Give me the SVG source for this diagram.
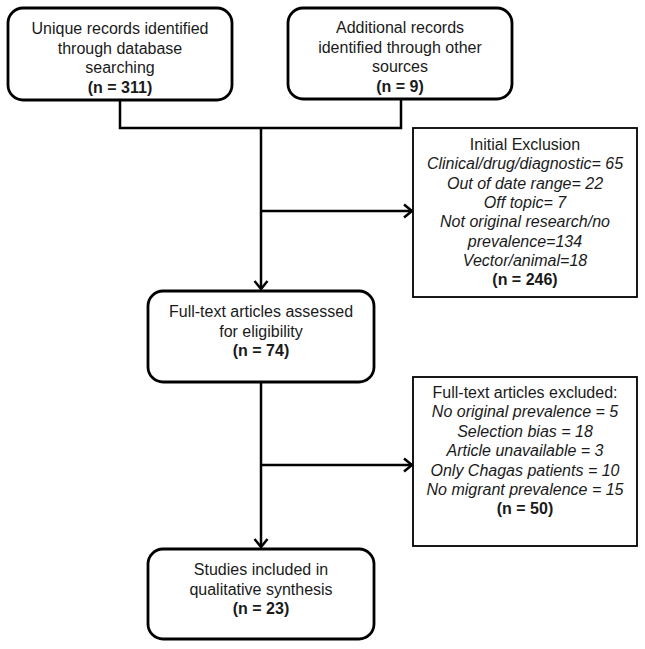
<svg xmlns="http://www.w3.org/2000/svg" width="645" height="649" viewBox="0 0 645 649">
<defs>
<style>
.rb{fill:#fff;stroke:#000;stroke-width:2.8}
.sb{fill:#fff;stroke:#000;stroke-width:1.8}
text{font-family:"Liberation Sans",Arial,sans-serif;font-size:16px;fill:#1a1a1a;text-anchor:middle}
.b{font-weight:bold}
.i{font-style:italic}
.c{fill:none;stroke:#000;stroke-width:2.5}
</style>
<marker id="ah" markerUnits="userSpaceOnUse" viewBox="-10 -8 12 16" refX="0" refY="0" markerWidth="12" markerHeight="16" orient="auto">
<path d="M-8,-6.5 L0,0 L-8,6.5" fill="none" stroke="#000" stroke-width="2.5"/>
</marker>
</defs>
<rect width="645" height="649" fill="#fff"/>
<g id="connectors">
<path class="c" d="M120,100 V128 H401 V99"/>
<path class="c" d="M261,128 V289" marker-end="url(#ah)"/>
<path class="c" d="M261,211 H412" marker-end="url(#ah)"/>
<path class="c" d="M261,382 V547" marker-end="url(#ah)"/>
<path class="c" d="M261,465 H412" marker-end="url(#ah)"/>
</g>
<g id="n1">
<rect class="rb" x="8" y="8" width="224" height="92" rx="15"/>
<text x="120" y="34">Unique records identified</text>
<text x="120" y="53.5">through database</text>
<text x="120" y="73">searching</text>
<text x="120" y="92.5" class="b">(n = 311)</text>
</g>
<g id="n2">
<rect class="rb" x="288" y="8" width="224" height="91" rx="15"/>
<text x="400" y="33">Additional records</text>
<text x="400" y="52.5">identified through other</text>
<text x="400" y="72">sources</text>
<text x="400" y="91.5" class="b">(n = 9)</text>
</g>
<g id="n3">
<rect class="sb" x="413" y="128" width="224" height="169"/>
<text x="525" y="150">Initial Exclusion</text>
<text x="525" y="169.3" class="i">Clinical/drug/diagnostic= 65</text>
<text x="525" y="188.6" class="i">Out of date range= 22</text>
<text x="525" y="207.9" class="i">Off topic= 7</text>
<text x="525" y="227.2" class="i">Not original research/no</text>
<text x="525" y="246.5" class="i">prevalence=134</text>
<text x="525" y="265.8" class="i">Vector/animal=18</text>
<text x="525" y="285.1" class="b">(n = 246)</text>
</g>
<g id="n4">
<rect class="rb" x="148" y="291" width="226" height="91" rx="15"/>
<text x="261" y="317">Full-text articles assessed</text>
<text x="261" y="336.5">for eligibility</text>
<text x="261" y="356" class="b">(n = 74)</text>
</g>
<g id="n5">
<rect class="sb" x="413" y="377" width="224" height="169"/>
<text x="525" y="398">Full-text articles excluded:</text>
<text x="525" y="417.4" class="i">No original prevalence = 5</text>
<text x="525" y="436.8" class="i">Selection bias = 18</text>
<text x="525" y="456.2" class="i">Article unavailable = 3</text>
<text x="525" y="475.6" class="i">Only Chagas patients = 10</text>
<text x="525" y="495" class="i">No migrant prevalence = 15</text>
<text x="525" y="514.4" class="b">(n = 50)</text>
</g>
<g id="n6">
<rect class="rb" x="148" y="549" width="226" height="90" rx="15"/>
<text x="261" y="575">Studies included in</text>
<text x="261" y="594.5">qualitative synthesis</text>
<text x="261" y="614" class="b">(n = 23)</text>
</g>
</svg>
